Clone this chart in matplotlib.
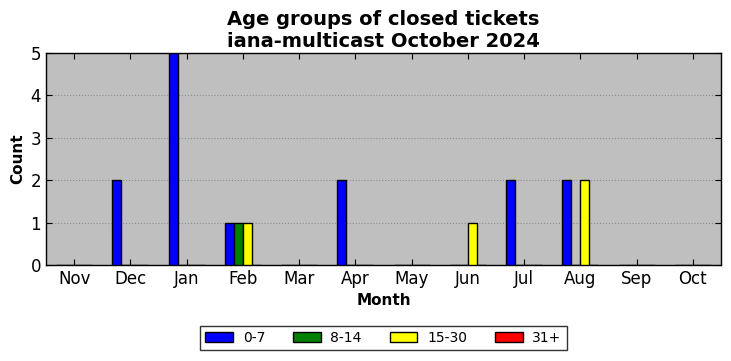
import matplotlib
matplotlib.use("Agg")
import matplotlib.pyplot as plt
import numpy as np

months = ["Nov", "Dec", "Jan", "Feb", "Mar", "Apr", "May", "Jun", "Jul", "Aug", "Sep", "Oct"]
age_0_7 = [0, 2, 5, 1, 0, 2, 0, 0, 2, 2, 0, 0]
age_8_14 = [0, 0, 0, 1, 0, 0, 0, 0, 0, 0, 0, 0]
age_15_30 = [0, 0, 0, 1, 0, 0, 0, 1, 0, 2, 0, 0]
age_31p = [0, 0, 0, 0, 0, 0, 0, 0, 0, 0, 0, 0]
series_labels = ["0-7", "8-14", "15-30", "31+"]
colors = ["blue", "green", "yellow", "red"]

fig = plt.figure(figsize=(7.31, 3.61), dpi=100)
ax = fig.add_axes([46/731, 1 - 265/361, (721-46)/731, (265-53)/361])
ax.set_facecolor("#bfbfbf")

x = np.arange(len(months))
w = 0.16
offsets = [-0.24, -0.08, 0.08, 0.24]
for vals, lab, c, off in zip([age_0_7, age_8_14, age_15_30, age_31p], series_labels, colors, offsets):
    ax.bar(x + off, vals, width=w, color=c, edgecolor="black", linewidth=1, label=lab, zorder=3)

ax.set_xlim(-0.5, len(months) - 0.5)
ax.set_ylim(0, 5)
ax.set_xticks(x)
ax.set_xticklabels(months, fontsize=12)
ax.set_yticks(range(0, 6))
ax.tick_params(axis="y", labelsize=12)
ax.tick_params(direction="in", top=True, right=True, length=4)
ax.yaxis.grid(True, linestyle=":", color="#8c8c8c", linewidth=0.8, zorder=0)
ax.set_axisbelow(True)
for s in ax.spines.values():
    s.set_linewidth(1)

ax.set_xlabel("Month", fontsize=11, fontweight="bold")
ax.set_ylabel("Count", fontsize=11, fontweight="bold")
ax.set_title("Age groups of closed tickets\niana-multicast October 2024", fontsize=14, fontweight="bold", linespacing=1.2, pad=4)

leg = ax.legend(loc="upper center", bbox_to_anchor=(0.5, -0.255), ncol=4, fontsize=10,
                frameon=True, fancybox=False, edgecolor="black", handlelength=2.0,
                handletextpad=0.7, columnspacing=2.0, borderpad=0.35)
leg.get_frame().set_linewidth(1)

fig.savefig("out.png", dpi=100)
